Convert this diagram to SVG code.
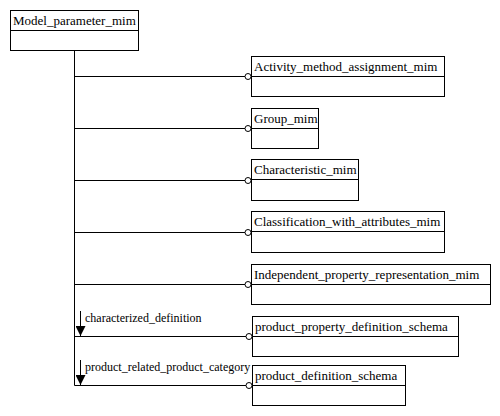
<svg xmlns="http://www.w3.org/2000/svg" width="500" height="416" viewBox="0 0 500 416">
<style>
.box{fill:#fff;stroke:#000;stroke-width:1}
.ln{fill:none;stroke:#000;stroke-width:1}
.t{font-family:"Liberation Serif","Times New Roman",serif;font-size:13px;fill:#000}
.lb{font-family:"Liberation Serif","Times New Roman",serif;font-size:12px;fill:#000}
.c{fill:#fff;stroke:#000;stroke-width:1}
</style>
<defs>
<marker id="ah" markerWidth="10" markerHeight="10" refX="10" refY="5" orient="auto" markerUnits="userSpaceOnUse" viewBox="0 0 10 10">
<path d="M0,0 L10,5 L0,10 Z" fill="#000"/>
</marker>
</defs>
<g id="connectors">
<path class="ln" d="M74.5,51 V385.5"/>
<path class="ln" d="M74.5,76.5 H245"/>
<path class="ln" d="M74.5,128.5 H245"/>
<path class="ln" d="M74.5,180.5 H245"/>
<path class="ln" d="M74.5,232.5 H245"/>
<path class="ln" d="M74.5,284.5 H245"/>
<path class="ln" d="M74.5,336.5 H246"/>
<path class="ln" d="M74.5,385.5 H246"/>
<circle class="c" cx="248" cy="76.5" r="3"/>
<circle class="c" cx="248" cy="128.5" r="3"/>
<circle class="c" cx="248" cy="180.5" r="3"/>
<circle class="c" cx="248" cy="232.5" r="3"/>
<circle class="c" cx="248" cy="284.5" r="3"/>
<circle class="c" cx="249" cy="336.5" r="3"/>
<circle class="c" cx="249" cy="385.5" r="3"/>
<path class="ln" d="M80.5,311 V336" marker-end="url(#ah)"/>
<path class="ln" d="M80.5,360 V385" marker-end="url(#ah)"/>
<text class="lb" x="85" y="322">characterized_definition</text>
<text class="lb" x="85" y="371">product_related_product_category</text>
</g>
<g id="Model_parameter_mim">
<rect class="box" x="10.5" y="10.5" width="128" height="40"/>
<path class="ln" d="M10.5,30.5 H138.5"/>
<text class="t" x="13" y="25">Model_parameter_mim</text>
</g>
<g id="Activity_method_assignment_mim">
<rect class="box" x="251.5" y="56.5" width="193" height="40"/>
<path class="ln" d="M251.5,76.5 H444.5"/>
<text class="t" x="254" y="71">Activity_method_assignment_mim</text>
</g>
<g id="Group_mim">
<rect class="box" x="251.5" y="108.5" width="67" height="40"/>
<path class="ln" d="M251.5,128.5 H318.5"/>
<text class="t" x="254" y="123">Group_mim</text>
</g>
<g id="Characteristic_mim">
<rect class="box" x="251.5" y="159.5" width="107" height="41"/>
<path class="ln" d="M251.5,179.5 H358.5"/>
<text class="t" x="254" y="174">Characteristic_mim</text>
</g>
<g id="Classification_with_attributes_mim">
<rect class="box" x="251.5" y="211.5" width="193" height="41"/>
<path class="ln" d="M251.5,231.5 H444.5"/>
<text class="t" x="254" y="226">Classification_with_attributes_mim</text>
</g>
<g id="Independent_property_representation_mim">
<rect class="box" x="251.5" y="264.5" width="239" height="40"/>
<path class="ln" d="M251.5,284.5 H490.5"/>
<text class="t" x="254" y="279">Independent_property_representation_mim</text>
</g>
<g id="product_property_definition_schema">
<rect class="box" x="252.5" y="316.5" width="206" height="40"/>
<path class="ln" d="M252.5,336.5 H458.5"/>
<text class="t" x="255" y="331">product_property_definition_schema</text>
</g>
<g id="product_definition_schema">
<rect class="box" x="252.5" y="365.5" width="153" height="40"/>
<path class="ln" d="M252.5,385.5 H405.5"/>
<text class="t" x="255" y="380">product_definition_schema</text>
</g>
</svg>
